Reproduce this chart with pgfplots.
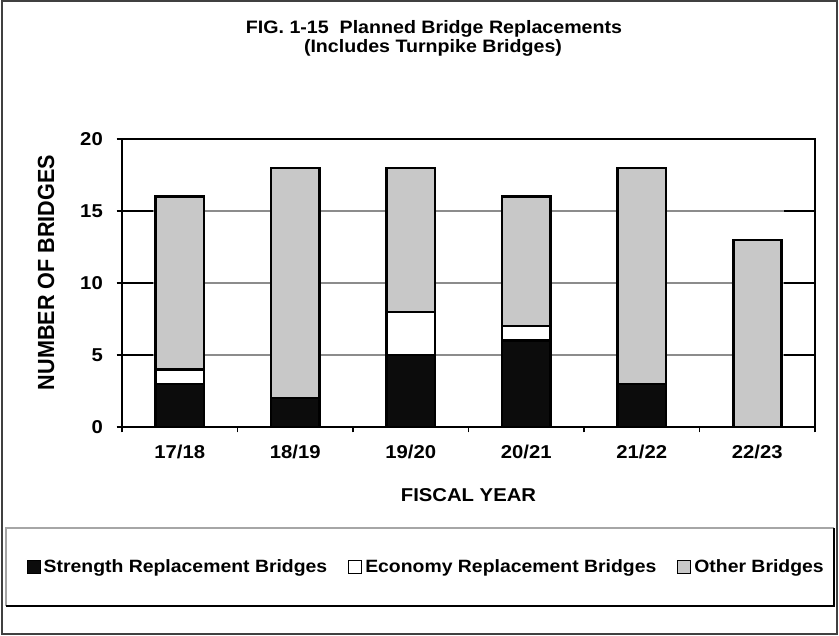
\documentclass[border=0pt]{standalone}
\usepackage{pgfplots}
\pgfplotsset{compat=1.18}
\usepackage{fontspec}
\usepackage{graphicx}
\setmainfont{Liberation Sans}[FakeStretch=1.09]
\newfontfamily\plainsans{Liberation Sans}
\definecolor{gridgray}{HTML}{8C8C8C}
\definecolor{barblack}{HTML}{0C0C0C}
\definecolor{bargray}{HTML}{C8C8C8}
\begin{document}
\begin{tikzpicture}
\path[use as bounding box] (0bp,0bp) rectangle (839bp,636bp);
\draw[line width=2bp, black!75] (2bp,2bp) rectangle (837bp,635bp);
% legend frame
\draw[line width=1.5bp, black!35] (6bp,30bp) -- (6bp,108bp) -- (834bp,108bp);
\draw[line width=1.5bp, black] (6bp,30bp) -- (834bp,30bp) -- (834bp,108bp);
% titles
\node[anchor=base, inner sep=0pt] at (434bp,602bp) {\fontsize{18bp}{20bp}\selectfont\bfseries FIG. 1-15\ \ Planned Bridge Replacements};
\node[anchor=base, inner sep=0pt] at (433bp,583.5bp) {\fontsize{18bp}{20bp}\selectfont\bfseries (Includes Turnpike Bridges)};
\node[anchor=base, inner sep=0pt] at (468.5bp,134bp) {\fontsize{18.6bp}{20bp}\selectfont\bfseries FISCAL YEAR};
\node[inner sep=0pt] at (46bp,363.5bp) {\scalebox{1.08}[1]{\rotatebox{90}{\plainsans\fontsize{21.6bp}{24bp}\selectfont\bfseries NUMBER OF BRIDGES}}};
\begin{axis}[
  at={(122bp,209bp)}, anchor=south west,
  scale only axis, width=693bp, height=288bp,
  xmin=-0.5, xmax=5.5, ymin=0, ymax=20,
  ybar stacked, bar width=48bp,
  xtick={-0.5,0.5,1.5,2.5,3.5,4.5,5.5},
  xticklabels={17/18,18/19,19/20,20/21,21/22,22/23},
  x tick label as interval,
  ytick={0,5,10,15,20},
  tick align=inside, major tick length=31bp,
  xtick pos=left, ytick pos=both,
  xtick style={draw=none},
  ymajorgrids,
  major grid style={draw=gridgray, line width=1.5bp},
  axis line style={black, line width=1.5bp},
  major tick style={black, line width=1.5bp},
  /pgf/number format/assume math mode=true,
  ticklabel style={font=\fontsize{18.6bp}{20bp}\selectfont\bfseries, inner sep=0pt},
  yticklabel style={anchor=east, xshift=-19bp},
  xticklabel style={anchor=base, yshift=-32bp},
  legend columns=3,
  legend style={at={(axis description cs:-0.1375,-0.486)}, anchor=west, draw=none, fill=none, inner sep=0pt, outer sep=0pt,
    font=\fontsize{17.8bp}{20bp}\selectfont\bfseries,
    nodes={inner sep=0pt},
    /tikz/every odd column/.style={column sep=3bp},
    /tikz/every even column/.style={column sep=21bp}},
  legend image code/.code={\path[#1, draw=black, line width=1bp] (0bp,-6.5bp) rectangle (13bp,6.5bp);},
]
\addplot[fill=barblack, draw=black, line width=2.5bp] coordinates {(0,3) (1,2) (2,5) (3,6) (4,3) (5,0)};
\addplot[fill=white, draw=black, line width=2.5bp] coordinates {(0,1) (1,0) (2,3) (3,1) (4,0) (5,0)};
\addplot[fill=bargray, draw=black, line width=2.5bp] coordinates {(0,12) (1,16) (2,10) (3,9) (4,15) (5,13)};
\legend{Strength Replacement Bridges, Economy Replacement Bridges, Other Bridges}
\end{axis}
% overlay axis: outward ticks only
\begin{axis}[
  at={(122bp,209bp)}, anchor=south west,
  scale only axis, width=693bp, height=288bp,
  xmin=-0.5, xmax=5.5, ymin=0, ymax=20,
  xtick={-0.5,0.5,1.5,2.5,3.5,4.5,5.5}, ytick={0,5,10,15,20},
  xticklabels={}, yticklabels={},
  tick align=outside, major tick length=5.5bp,
  xtick pos=left, ytick pos=left,
  axis line style={draw=none},
  major tick style={black, line width=1.5bp},
]
\end{axis}
\end{tikzpicture}
\end{document}
